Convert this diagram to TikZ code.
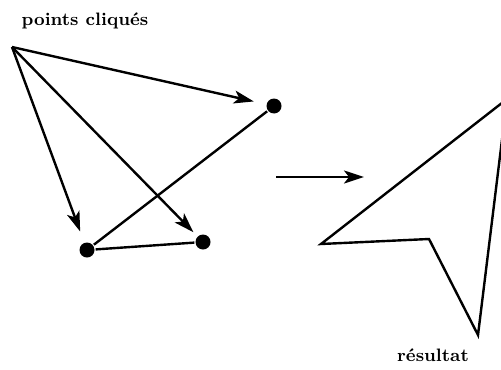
\documentclass[tikz,border=0pt]{standalone}
\usetikzlibrary{arrows.meta}
\begin{document}
\begin{tikzpicture}[x=0.5pt,y=-0.5pt,line width=1.2pt,
    >={Stealth[length=10pt,width=6.5pt,inset=2.5pt]}]

      \useasboundingbox (0,0) rectangle (501,369);
      \clip (0,0) rectangle (501,369);

      \begin{scope}[every node/.style={font=\bfseries\small}]
        \node (clic) at (85,21)  {points cliqués};
        \node (res)  at (433,355) {résultat};
      \end{scope}

      \coordinate (o) at (12,47);
      \begin{scope}[every node/.style={circle,fill,inner sep=0pt,minimum size=7.5pt}]
        \node (a) at (274,106) {};
        \node (b) at (87,250)  {};
        \node (c) at (203,242) {};
      \end{scope}

      \draw[->,shorten >=6pt]   (o) -- (a);
      \draw[->,shorten >=5.5pt] (o) -- (b);
      \draw[->,shorten >=2.5pt] (o) -- (c);
      \draw (a) -- (b) -- (c);

      \coordinate (m1) at (276,177);
      \coordinate (m2) at (364,177);
      \draw[->] (m1) -- (m2);

      \coordinate (p1) at (321,244);
      \coordinate (p2) at (429,239);
      \coordinate (p3) at (478,335);
      \coordinate (p4) at (507,99);
      \draw[line join=miter] (p1) -- (p2) -- (p3) -- (p4) -- cycle;

    \end{tikzpicture}
\end{document}
